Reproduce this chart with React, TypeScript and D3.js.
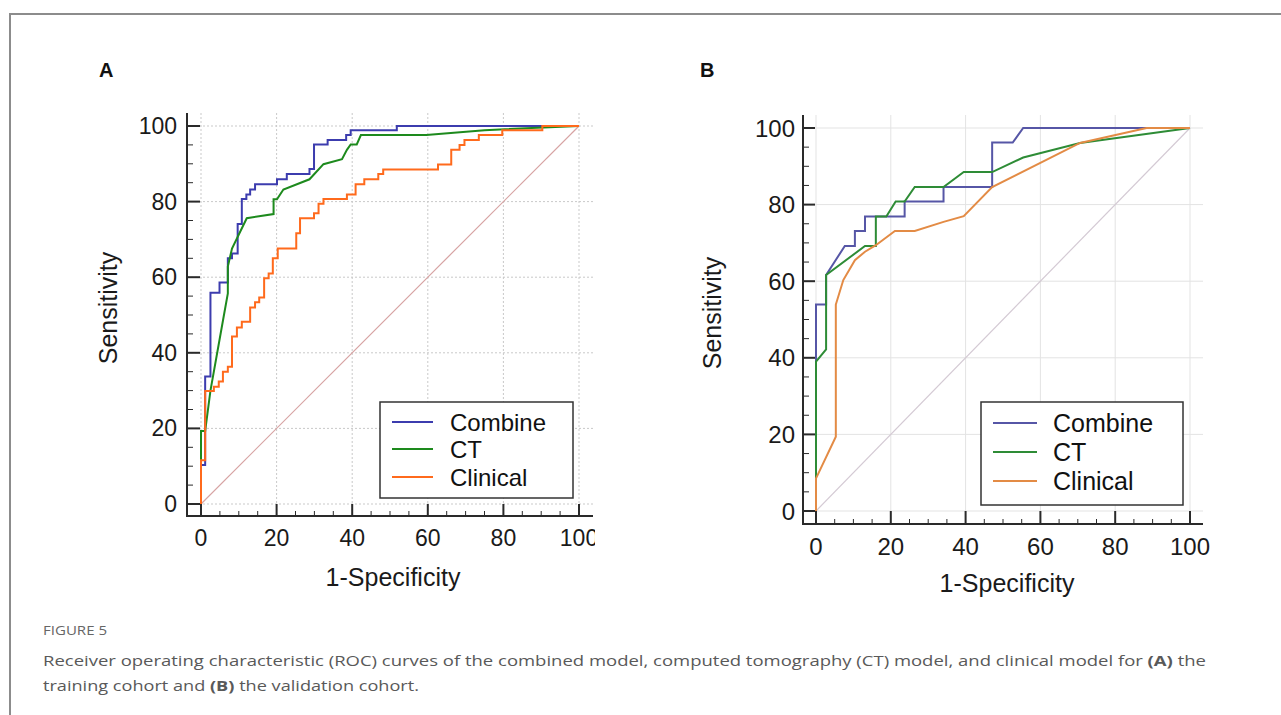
import React from 'react';
import * as d3 from 'd3';

type Pt = [number, number];

const seriesNames = ['Combine', 'CT', 'Clinical'];
const axisTicks = [0, 20, 40, 60, 80, 100];
const minorTicks = d3.range(0, 101, 5).filter(v => v % 20 !== 0);

// panel A - training cohort (1-specificity, sensitivity)
const combineA: Pt[] = [
  [0, 0], [0, 10.3], [1.1, 10.3], [1.1, 33.7], [2.5, 33.7], [2.5, 55.9], [4.9, 55.9], [4.9, 58.6],
  [7.1, 58.6], [7.1, 65], [8.2, 65], [8.2, 66.3], [9.7, 66.3], [9.7, 74.1], [10.8, 74.1], [10.8, 80.7],
  [12, 80.7], [12, 81.9], [13, 81.9], [13, 83.2], [14.3, 83.2], [14.3, 84.6], [20.1, 84.6], [20.1, 85.9],
  [22.7, 85.9], [22.7, 87.3], [28.7, 87.3], [28.7, 88.6], [29.9, 88.6], [29.9, 95.1], [33.5, 95.1],
  [33.5, 96.3], [38.4, 96.3], [38.4, 97.6], [39.6, 97.6], [39.6, 98.9], [51.8, 98.9], [51.8, 100], [100, 100],
];
const ctA: Pt[] = [
  [0, 0], [0, 19.3], [1.1, 19.3], [2.5, 30], [6, 49.6], [7.1, 55.7], [7.1, 62.8], [8.2, 67.6], [12.1, 75.6],
  [19.2, 76.7], [19.2, 80.6], [20.1, 80.6], [21.8, 83.2], [28.7, 85.9], [32.4, 89.9], [37.3, 91.2],
  [38.6, 93.7], [39.6, 95.1], [41.2, 95.1], [42.3, 97.6], [59.6, 97.6], [75, 98.9], [100, 100],
];
const clinicalA: Pt[] = [
  [0, 0], [0, 11.6], [1.1, 11.6], [1.1, 29.9], [3.4, 29.9], [3.4, 31], [4.7, 31], [4.7, 32.4], [5.8, 32.4],
  [5.8, 35], [7.1, 35], [7.1, 36.3], [8.2, 36.3], [8.2, 44.3], [9.5, 44.3], [9.5, 46.7], [10.8, 46.7],
  [10.8, 48.2], [13, 48.2], [13, 52], [14.3, 52], [14.3, 53.4], [15.4, 53.4], [15.4, 54.6], [16.7, 54.6],
  [16.7, 59.7], [17.9, 59.7], [17.9, 61], [19, 61], [19, 65], [20.3, 65], [20.3, 67.6], [25.2, 67.6],
  [25.2, 71.6], [26.2, 71.6], [26.2, 75.6], [29.9, 75.6], [29.9, 76.9], [31.1, 76.9], [31.1, 79.4],
  [32.4, 79.4], [32.4, 80.7], [38.6, 80.7], [38.6, 81.9], [40.9, 81.9], [40.9, 84.6], [43.2, 84.6],
  [43.2, 85.9], [46.9, 85.9], [46.9, 87.3], [48.2, 87.3], [48.2, 88.5], [62.7, 88.5], [62.7, 89.8],
  [66.2, 89.8], [66.2, 93.7], [68.4, 93.7], [68.4, 95], [69.7, 95], [69.7, 96.3], [73.5, 96.3],
  [73.5, 97.6], [79.7, 97.6], [79.7, 98.9], [90.3, 98.9], [90.3, 100], [100, 100],
];

// panel B - validation cohort
const combineB: Pt[] = [
  [0, 0], [0, 53.9], [2.7, 53.9], [2.7, 61.6], [7.7, 69.2], [10.4, 69.2], [10.4, 73.1], [13.1, 73.1],
  [13.1, 76.9], [23.7, 76.9], [23.7, 80.8], [34.1, 80.8], [34.1, 84.6], [47.1, 84.6], [47.1, 96.2],
  [52.6, 96.2], [55.4, 100], [100, 100],
];
const ctB: Pt[] = [
  [0, 0], [0, 39], [2.7, 42.2], [2.7, 61.6], [13.1, 69.2], [16, 69.2], [16, 76.9], [18.8, 76.9],
  [21.3, 80.8], [23.7, 80.8], [26.4, 84.6], [34.1, 84.6], [39.5, 88.5], [47.1, 88.5], [55.4, 92.3],
  [70.6, 96.1], [100, 100],
];
const clinicalB: Pt[] = [
  [0, 0], [0, 8.5], [5.3, 19.4], [5.3, 53.9], [7.3, 60.3], [10.4, 65.5], [13.1, 67.7], [16, 69.4],
  [21.1, 73.1], [26.4, 73.1], [34.1, 75.5], [39.5, 77], [47.1, 84.6], [70.6, 96.1], [88.4, 100], [100, 100],
];

const captionLines = [
  'Receiver operating characteristic (ROC) curves of the combined model, computed tomography (CT) model, and clinical model for ',
  'training cohort and ',
];

const FONT = '"Liberation Sans", Arial, sans-serif';

interface PanelCfg {
  id: string;
  label: string;
  labelX: number;
  x0: number; x1: number; y0: number; y1: number;
  axisX: number; axisY: number; axisTop: number; axisRight: number;
  xLabelY: number; yLabelX: number;
  xTitle: [number, number]; yTitle: [number, number];
  legend: { x: number; y: number; w: number; h: number; rows: number[]; l0: number; l1: number; tx: number };
  fs: number; titleFs: number; legendFs: number;
  curves: Pt[][];
  colors: string[];
  diag: string;
  grid: string;
  gridDash: string;
  clipRight: number;
}

const panels: PanelCfg[] = [
  {
    id: 'A', label: 'A', labelX: 99,
    x0: 201, x1: 579, y0: 504, y1: 126,
    axisX: 187, axisY: 516, axisTop: 113, axisRight: 593,
    xLabelY: 538, yLabelX: 177,
    xTitle: [393, 577], yTitle: [108, 308],
    legend: { x: 380, y: 402, w: 193, h: 96, rows: [422, 449, 477], l0: 392, l1: 433, tx: 450 },
    fs: 23, titleFs: 25, legendFs: 24,
    curves: [combineA, ctA, clinicalA],
    colors: ['#3c3cae', '#1d8a1d', '#ff6a1c'],
    diag: '#d7a3a3', grid: '#c9c9c9', gridDash: '2,2',
    clipRight: 595,
  },
  {
    id: 'B', label: 'B', labelX: 700,
    x0: 816, x1: 1190, y0: 511, y1: 128,
    axisX: 803, axisY: 524, axisTop: 115, axisRight: 1203,
    xLabelY: 546, yLabelX: 795,
    xTitle: [1007, 583], yTitle: [712, 313],
    legend: { x: 981, y: 402, w: 202, h: 103, rows: [423, 452, 481], l0: 993, l1: 1037, tx: 1053 },
    fs: 24, titleFs: 25, legendFs: 25,
    curves: [combineB, ctB, clinicalB],
    colors: ['#5656a6', '#2e8c36', '#e38b45'],
    diag: '#d4cad4', grid: '#e3e3e3', gridDash: '',
    clipRight: 1281,
  },
];

function Panel({ p }: { p: PanelCfg }) {
  const x = d3.scaleLinear().domain([0, 100]).range([p.x0, p.x1]);
  const y = d3.scaleLinear().domain([0, 100]).range([p.y0, p.y1]);
  const line = d3.line<Pt>().x(d => x(d[0])).y(d => y(d[1]));
  const axisCol = '#2a2a2a';

  return (
    <g clipPath={`url(#clip${p.id})`} fontFamily={FONT}>
      <clipPath id={`clip${p.id}`}>
        <rect x={0} y={0} width={p.clipRight} height={600} />
      </clipPath>
      <text x={p.labelX} y={77} fontSize={20} fontWeight="bold" fill="#111">{p.label}</text>

      {/* grid */}
      {axisTicks.map(t => (
        <g key={'g' + t}>
          <line x1={x(t)} x2={x(t)} y1={p.axisTop} y2={p.axisY} stroke={p.grid} strokeWidth={1} strokeDasharray={p.gridDash} />
          <line x1={p.axisX} x2={p.axisRight} y1={y(t)} y2={y(t)} stroke={p.grid} strokeWidth={1} strokeDasharray={p.gridDash} />
        </g>
      ))}

      {/* chance line */}
      <line x1={x(0)} y1={y(0)} x2={x(100)} y2={y(100)} stroke={p.diag} strokeWidth={1.2} />

      {/* curves */}
      {p.curves.map((c, i) => (
        <path key={i} d={line(c) || ''} fill="none" stroke={p.colors[i]} strokeWidth={2} strokeLinejoin="miter" />
      ))}

      {/* axes */}
      <line x1={p.axisX} x2={p.axisX} y1={p.axisTop} y2={p.axisY + 1} stroke={axisCol} strokeWidth={2} />
      <line x1={p.axisX - 1} x2={p.axisRight} y1={p.axisY} y2={p.axisY} stroke={axisCol} strokeWidth={2} />
      {axisTicks.map(t => (
        <g key={'t' + t}>
          <line x1={p.axisX} x2={x(0) - 1} y1={y(t)} y2={y(t)} stroke={axisCol} strokeWidth={2} />
          <line x1={x(t)} x2={x(t)} y1={p.axisY} y2={y(0)} stroke={axisCol} strokeWidth={2} />
          <text x={p.yLabelX} y={y(t)} textAnchor="end" dominantBaseline="central" fontSize={p.fs} fill="#1a1a1a">{t}</text>
          <text x={x(t)} y={p.xLabelY} textAnchor="middle" dominantBaseline="central" fontSize={p.fs} fill="#1a1a1a">{t}</text>
        </g>
      ))}
      {minorTicks.map(t => (
        <g key={'m' + t}>
          <line x1={p.axisX} x2={p.axisX + 6} y1={y(t)} y2={y(t)} stroke={axisCol} strokeWidth={1} />
          <line x1={x(t)} x2={x(t)} y1={p.axisY} y2={p.axisY - 5} stroke={axisCol} strokeWidth={1} />
        </g>
      ))}

      <text x={p.xTitle[0]} y={p.xTitle[1]} textAnchor="middle" dominantBaseline="central" fontSize={p.titleFs} fill="#1a1a1a">1-Specificity</text>
      <text transform={`translate(${p.yTitle[0]},${p.yTitle[1]}) rotate(-90)`} textAnchor="middle" dominantBaseline="central" fontSize={p.titleFs} fill="#1a1a1a">Sensitivity</text>

      {/* legend */}
      <rect x={p.legend.x} y={p.legend.y} width={p.legend.w} height={p.legend.h} fill="#fff" stroke="#333" strokeWidth={1.5} />
      {seriesNames.map((name, i) => (
        <g key={name}>
          <line x1={p.legend.l0} x2={p.legend.l1} y1={p.legend.rows[i]} y2={p.legend.rows[i]} stroke={p.colors[i]} strokeWidth={2} />
          <text x={p.legend.tx} y={p.legend.rows[i]} dominantBaseline="central" fontSize={p.legendFs} fill="#111">{name}</text>
        </g>
      ))}
    </g>
  );
}

export default function App() {
  const capFont = '"Open Sans", "Noto Sans", sans-serif';
  return (
    <div style={{ position: 'absolute', left: 0, top: 0 }}>
      <svg width={1281} height={715} style={{ display: 'block', background: '#fff' }}>
        <path d="M10,715 V14 H1281" fill="none" stroke="#8c8c8c" strokeWidth={2} />
        {panels.map(p => <Panel key={p.id} p={p} />)}
        <text x={43} y={635} fontFamily={capFont} fontSize={12} fill="#666" textLength={64} lengthAdjust="spacingAndGlyphs">FIGURE 5</text>
        <text x={43} y={666} fontFamily={capFont} fontSize={15} fill="#595959" textLength={1163} lengthAdjust="spacingAndGlyphs">
          {captionLines[0]}<tspan fontWeight="bold">(A)</tspan> the
        </text>
        <text x={43} y={691} fontFamily={capFont} fontSize={15} fill="#595959" textLength={376} lengthAdjust="spacingAndGlyphs">
          {captionLines[1]}<tspan fontWeight="bold">(B)</tspan> the validation cohort.
        </text>
      </svg>
    </div>
  );
}
